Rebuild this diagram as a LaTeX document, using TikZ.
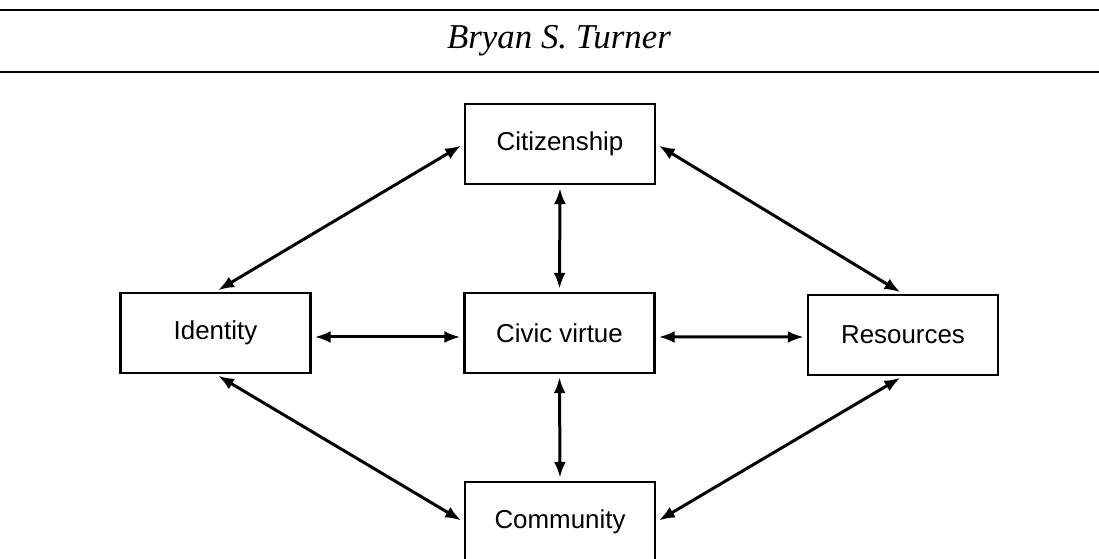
\documentclass[tikz,border=0pt]{standalone}
\usepackage{fontspec}
\setmainfont{Liberation Serif}
\setsansfont{Liberation Sans}
\usetikzlibrary{arrows.meta}
\begin{document}
\begin{tikzpicture}[x=1bp,y=-1bp,
  box/.style={draw,line width=2.4bp,minimum width=190bp,minimum height=80bp,inner sep=0pt,
    font=\sffamily\fontsize{26}{30}\selectfont},
  arr/.style={line width=3bp,{Latex[length=16bp,width=12bp]}-{Latex[length=16bp,width=12bp]},
    shorten <=3bp,shorten >=3bp},
  rulel/.style={line width=2.6bp}]
\useasboundingbox (0,0) rectangle (1099,559);
\clip (0,0) rectangle (1099,559);
\fill[white] (0,0) rectangle (1099,559);
\coordinate (rtl) at (0,10);
\coordinate (rtr) at (1099,10);
\coordinate (rbl) at (0,72);
\coordinate (rbr) at (1099,72);
\draw[rulel] (rtl) -- (rtr);
\draw[rulel] (rbl) -- (rbr);
\node[font=\itshape\fontsize{35}{40}\selectfont] (title) at (559,41) {Bryan S. Turner};
\node[box] (cit) at (560,144) {Citizenship};
\node[box] (id) at (215.5,333) {Identity};
\node[box] (civ) at (559.5,333) {Civic virtue};
\node[box] (res) at (903,335) {Resources};
\node[box] (com) at (560,522) {Community};
\draw[arr] (cit.west) -- (id.north);
\draw[arr] (cit.east) -- (res.north);
\draw[arr] (cit.south) -- (civ.north);
\draw[arr] ([yshift=-4bp]id.east) -- ([yshift=-4bp]civ.west);
\draw[arr] ([yshift=-4bp]civ.east) -- ([yshift=-2bp]res.west);
\draw[arr] (civ.south) -- (com.north);
\draw[arr] (id.south) -- (com.west);
\draw[arr] (res.south) -- (com.east);
\end{tikzpicture}
\end{document}
